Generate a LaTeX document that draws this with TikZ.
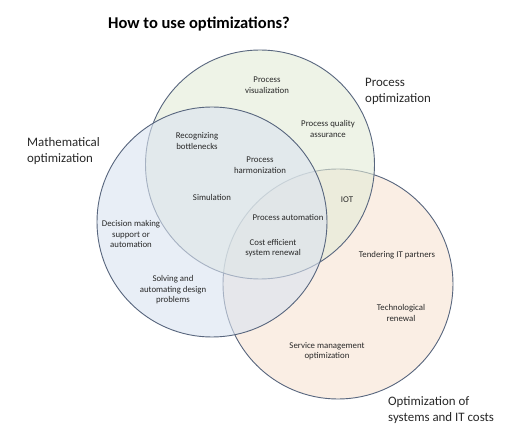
\documentclass[tikz,border=0pt]{standalone}
\usepackage{fontspec}
\setmainfont{Carlito}
\definecolor{cblue}{RGB}{218,227,240}
\definecolor{cgreen}{RGB}{227,235,215}
\definecolor{corange}{RGB}{248,227,210}
\definecolor{cline}{RGB}{88,102,126}
\definecolor{ctext}{RGB}{40,40,40}
\begin{document}
\begin{tikzpicture}[x=1pt,y=-1pt,
  circ/.style={draw=cline,line width=0.9pt,fill opacity=0.6},
  small/.style={font=\fontsize{8.8}{10.6}\selectfont,align=center,text=ctext,inner sep=0pt},
  big/.style={font=\fontsize{12.9}{16}\selectfont,align=left,anchor=west,text=ctext,inner sep=0pt},
  ttl/.style={font=\fontsize{16.5}{19}\selectfont\bfseries,text=black,inner sep=0pt}]
\useasboundingbox (0,0) rectangle (522,438);
\fill[white] (0,0) rectangle (522,438);
\draw[circ,fill=corange] (338,284) circle (115);
\draw[circ,fill=cgreen] (260,164.5) circle (114.5);
\draw[circ,fill=cblue] (212,222) circle (115);
\node[ttl] (title) at (199,24) {How to use optimizations?};
\node[big] (lproc) at (365,91) {Process\\optimization};
\node[big] (lmath) at (27,151) {Mathematical\\optimization};
\node[big] (lit) at (388,410) {Optimization of\\systems and IT costs};
\node[small] (pv) at (267,85) {Process\\visualization};
\node[small] (pq) at (328,129) {Process quality\\assurance};
\node[small] (rb) at (197,141) {Recognizing\\bottlenecks};
\node[small] (ph) at (260,165) {Process\\harmonization};
\node[small] (sim) at (212,197) {Simulation};
\node[small] (iot) at (347,200) {IOT};
\node[small] (pa) at (288,217) {Process automation};
\node[small] (dm) at (131,234) {Decision making\\support or\\automation};
\node[small] (ce) at (273,248) {Cost efficient\\system renewal};
\node[small] (tip) at (397,255) {Tendering IT partners};
\node[small] (sa) at (173,290) {Solving and\\automating design\\problems};
\node[small] (tr) at (401,313) {Technological\\renewal};
\node[small] (sm) at (327,351) {Service management\\optimization};
\end{tikzpicture}
\end{document}
